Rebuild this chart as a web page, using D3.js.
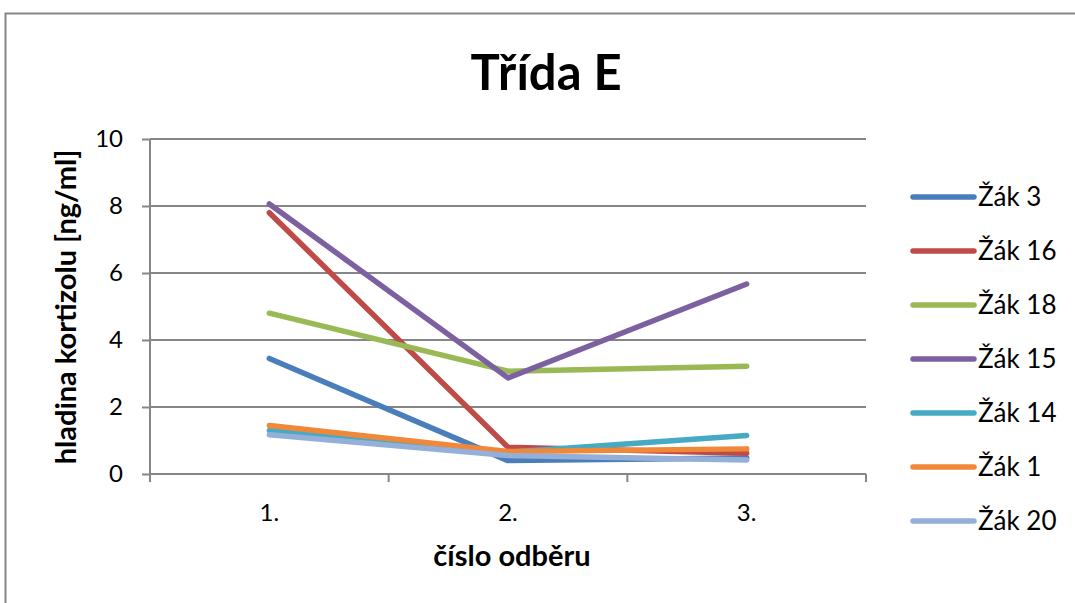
<!DOCTYPE html>
<html>
<head>
<meta charset="utf-8">
<script src="https://cdn.jsdelivr.net/npm/d3@7"></script>
<style>
  body { margin: 0; background: #fff; }
  svg { display: block; }
</style>
</head>
<body>
<svg width="1075" height="603"></svg>
<script>
const width = 1075;
const height = 603;

// data
const categories = ["1.", "2.", "3."];
const seriesNames = ["Žák 3", "Žák 16", "Žák 18", "Žák 15", "Žák 14", "Žák 1", "Žák 20"];
const zak3  = [3.45, 0.40, 0.48];
const zak16 = [7.80, 0.80, 0.62];
const zak18 = [4.80, 3.07, 3.22];
const zak15 = [8.06, 2.87, 5.67];
const zak14 = [1.30, 0.65, 1.15];
const zak1  = [1.45, 0.67, 0.75];
const zak20 = [1.17, 0.55, 0.42];
const yTicks = [0, 2, 4, 6, 8, 10];
const colors = ["#4a7ebb", "#be4b48", "#98b954", "#7d60a0", "#46aac5", "#f0883a", "#95b0d8"];

const series = [zak3, zak16, zak18, zak15, zak14, zak1, zak20];

const font = "Lato, sans-serif";
const svg = d3.select("svg");

// chart frame
svg.append("rect")
    .attr("x", 5.5).attr("y", 13.5)
    .attr("width", 1100).attr("height", 620)
    .attr("fill", "none")
    .attr("stroke", "#868686")
    .attr("stroke-width", 2);

const x = d3.scaleBand()
    .domain(categories)
    .range([150, 866]);

const y = d3.scaleLinear()
    .domain([0, 10])
    .range([474, 139]);

// gridlines
svg.append("g")
    .selectAll("line")
    .data(yTicks.filter(d => d > 0))
    .join("line")
    .attr("x1", 150).attr("x2", 866)
    .attr("y1", d => y(d)).attr("y2", d => y(d))
    .attr("stroke", "#868686")
    .attr("stroke-width", 2);

// y axis
const yAxis = svg.append("g")
    .attr("transform", "translate(150,0)")
    .call(d3.axisLeft(y).tickValues(yTicks).tickSize(8).tickPadding(19));
yAxis.selectAll("line, path").attr("stroke", "#868686").attr("stroke-width", 2);
yAxis.select(".domain").attr("d", `M0,${y(0)}V${y(10)}`);
yAxis.selectAll("text")
    .attr("font-family", font)
    .attr("font-size", 24)
    .attr("fill", "#000");

// x axis
const xAxis = svg.append("g")
    .attr("transform", `translate(0,${y(0)})`)
    .call(d3.axisBottom(x).tickSize(0).tickPadding(30));
xAxis.select(".domain").attr("d", "M150,0H866").attr("stroke", "#868686").attr("stroke-width", 2);
xAxis.selectAll("text")
    .attr("font-family", font)
    .attr("font-size", 24)
    .attr("fill", "#000");
// tick marks between categories
xAxis.append("g")
    .selectAll("line")
    .data([150, ...categories.map(c => x(c) + x.bandwidth())])
    .join("line")
    .attr("x1", d => d).attr("x2", d => d)
    .attr("y1", 0).attr("y2", 8)
    .attr("stroke", "#868686")
    .attr("stroke-width", 2);

// lines
const line = d3.line()
    .x((d, i) => x(categories[i]) + x.bandwidth() / 2)
    .y(d => y(d));

svg.append("g")
    .selectAll("path")
    .data(series)
    .join("path")
    .attr("d", line)
    .attr("fill", "none")
    .attr("stroke", (d, i) => colors[i])
    .attr("stroke-width", 5.5)
    .attr("stroke-linecap", "round")
    .attr("stroke-linejoin", "round");

// title
svg.append("text")
    .attr("x", 546).attr("y", 90)
    .attr("text-anchor", "middle")
    .attr("font-family", font)
    .attr("font-weight", "bold")
    .attr("font-size", 49)
    .text("Třída E");

// axis titles
svg.append("text")
    .attr("transform", "translate(76,307) rotate(-90)")
    .attr("text-anchor", "middle")
    .attr("font-family", font)
    .attr("font-weight", "bold")
    .attr("font-size", 29)
    .text("hladina kortizolu [ng/ml]");

svg.append("text")
    .attr("x", 512).attr("y", 566)
    .attr("text-anchor", "middle")
    .attr("font-family", font)
    .attr("font-weight", "bold")
    .attr("font-size", 29)
    .text("číslo odběru");

// legend
const legend = svg.append("g")
    .selectAll("g")
    .data(seriesNames)
    .join("g")
    .attr("transform", (d, i) => `translate(910,${197 + i * 54})`);

legend.append("line")
    .attr("x1", 3).attr("x2", 64)
    .attr("stroke", (d, i) => colors[i])
    .attr("stroke-width", 5.5)
    .attr("stroke-linecap", "round");

legend.append("text")
    .attr("x", 68).attr("y", 9)
    .attr("font-family", font)
    .attr("font-size", 26)
    .text(d => d);
</script>
</body>
</html>
